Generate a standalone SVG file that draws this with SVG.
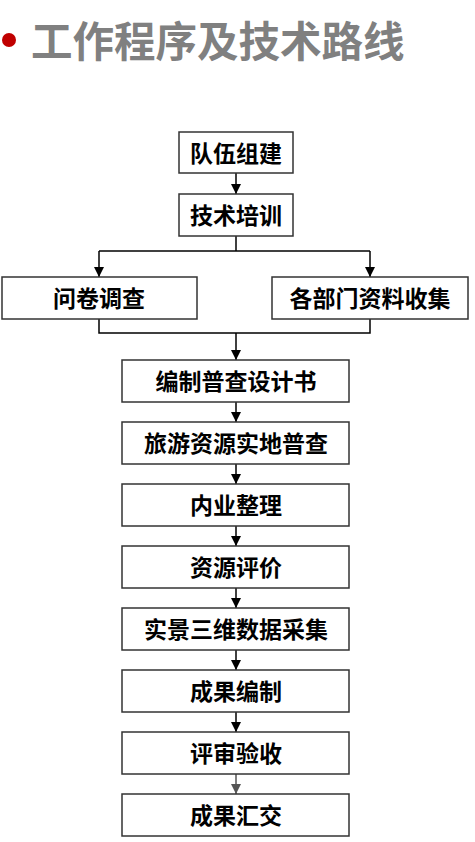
<svg xmlns="http://www.w3.org/2000/svg" width="475" height="842" viewBox="0 0 475 842">
<style>
.box{fill:#fff;stroke:#333;stroke-width:1.5}
.t{font-family:"Noto Sans CJK SC","Liberation Sans",sans-serif;font-weight:bold;font-size:23px;fill:#000;text-anchor:middle;dominant-baseline:central}
.c{fill:none;stroke:#000;stroke-width:1.5}
.title{font-family:"Noto Sans CJK SC","Liberation Sans",sans-serif;font-weight:bold;font-size:41.5px;fill:#808080}
</style>
<defs>
<marker id="ah" viewBox="0 0 10 10" refX="10" refY="5" markerWidth="7" markerHeight="7" markerUnits="strokeWidth" orient="auto">
<path d="M0,0 L10,5 L0,10 z" fill="#000"/>
</marker>
<marker id="ahg" viewBox="0 0 10 10" refX="10" refY="5" markerWidth="7" markerHeight="7" markerUnits="strokeWidth" orient="auto">
<path d="M0,0 L10,5 L0,10 z" fill="#555"/>
</marker>
</defs>
<g id="title">
<circle cx="9" cy="40" r="7" fill="#c00000"/>
<text class="title" x="31" y="56.5">工作程序及技术路线</text>
</g>
<g id="connectors">
<line class="c" x1="236" y1="173" x2="236" y2="194" marker-end="url(#ah)"/>
<polyline class="c" points="236,236 236,251"/>
<polyline class="c" points="99,251 370,251"/>
<line class="c" x1="99" y1="251" x2="99" y2="277" marker-end="url(#ah)"/>
<line class="c" x1="370" y1="251" x2="370" y2="277" marker-end="url(#ah)"/>
<polyline class="c" points="99,319 99,333 370,333 370,319"/>
<line class="c" x1="236" y1="333" x2="236" y2="360" marker-end="url(#ah)"/>
<line class="c" x1="236" y1="402" x2="236" y2="422" marker-end="url(#ah)"/>
<line class="c" x1="236" y1="464" x2="236" y2="484" marker-end="url(#ah)"/>
<line class="c" x1="236" y1="526" x2="236" y2="546" marker-end="url(#ah)"/>
<line class="c" x1="236" y1="588" x2="236" y2="608" marker-end="url(#ah)"/>
<line class="c" x1="236" y1="650" x2="236" y2="670" marker-end="url(#ah)"/>
<line class="c" x1="236" y1="712" x2="236" y2="732" marker-end="url(#ah)"/>
<line class="c" x1="236" y1="774" x2="236" y2="794" style="stroke:#555" marker-end="url(#ahg)"/>
</g>
<g id="n1"><rect class="box" x="179" y="132" width="114" height="41"/><text class="t" x="236" y="152">队伍组建</text></g>
<g id="n2"><rect class="box" x="179" y="194" width="114" height="42"/><text class="t" x="236" y="214">技术培训</text></g>
<g id="n3"><rect class="box" x="2" y="277" width="195" height="42"/><text class="t" x="99" y="297">问卷调查</text></g>
<g id="n4"><rect class="box" x="272" y="277" width="196" height="42"/><text class="t" x="370" y="297">各部门资料收集</text></g>
<g id="n5"><rect class="box" x="122" y="360" width="227" height="42"/><text class="t" x="236" y="380">编制普查设计书</text></g>
<g id="n6"><rect class="box" x="122" y="422" width="227" height="42"/><text class="t" x="236" y="442">旅游资源实地普查</text></g>
<g id="n7"><rect class="box" x="122" y="484" width="227" height="42"/><text class="t" x="236" y="504">内业整理</text></g>
<g id="n8"><rect class="box" x="122" y="546" width="227" height="42"/><text class="t" x="236" y="566">资源评价</text></g>
<g id="n9"><rect class="box" x="122" y="608" width="227" height="42"/><text class="t" x="236" y="628">实景三维数据采集</text></g>
<g id="n10"><rect class="box" x="122" y="670" width="227" height="42"/><text class="t" x="236" y="690">成果编制</text></g>
<g id="n11"><rect class="box" x="122" y="732" width="227" height="42"/><text class="t" x="236" y="752">评审验收</text></g>
<g id="n12"><rect class="box" x="122" y="794" width="227" height="42"/><text class="t" x="236" y="814">成果汇交</text></g>
</svg>
